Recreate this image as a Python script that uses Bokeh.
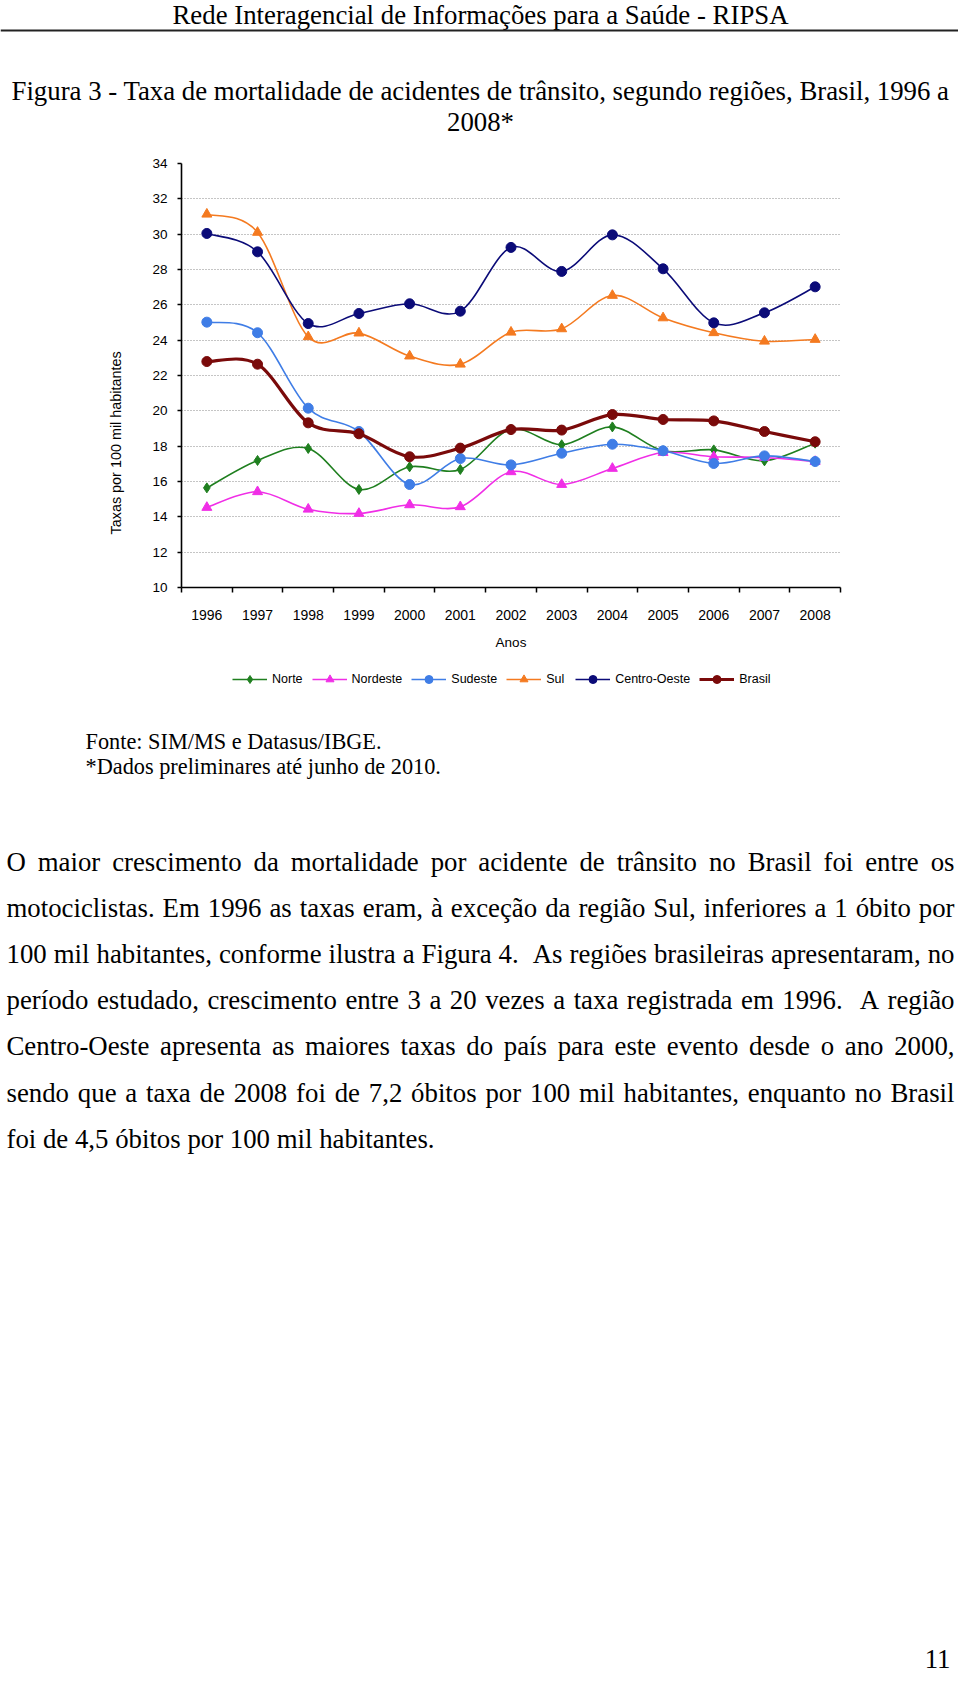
import unicodedata
from bokeh.plotting import figure
from bokeh.models import (Range1d, FixedTicker, Legend, LegendItem, Span, Title,
                          ColumnDataSource)
from bokeh.embed import file_html
from bokeh.resources import INLINE
from bokeh.core.properties import value

# ---------------- data ----------------
years = [1996, 1997, 1998, 1999, 2000, 2001, 2002, 2003, 2004, 2005, 2006, 2007, 2008]
norte = [15.64, 17.19, 17.87, 15.55, 16.83, 16.68, 18.95, 18.08, 19.09, 17.74, 17.79, 17.17, 18.17]
nordeste = [14.53, 15.42, 14.43, 14.19, 14.68, 14.57, 16.55, 15.83, 16.74, 17.64, 17.40, 17.36, 17.13]
sudeste = [25.02, 24.42, 20.15, 18.83, 15.83, 17.30, 16.94, 17.60, 18.11, 17.74, 17.02, 17.45, 17.13]
sul = [31.13, 30.10, 24.19, 24.40, 23.10, 22.64, 24.45, 24.64, 26.53, 25.26, 24.42, 23.94, 24.04]
centro_oeste = [30.04, 29.00, 24.94, 25.51, 26.06, 25.64, 29.25, 27.89, 29.96, 28.04, 24.98, 25.55, 27.02]
brasil = [22.79, 22.64, 19.32, 18.70, 17.40, 17.89, 18.94, 18.91, 19.79, 19.51, 19.43, 18.83, 18.25]
series_names = ["Norte", "Nordeste", "Sudeste", "Sul", "Centro-Oeste", "Brasil"]
y_ticks = [10, 12, 14, 16, 18, 20, 22, 24, 26, 28, 30, 32, 34]

header_text = "Rede Interagencial de Informações para a Saúde - RIPSA"
title_lines = ["Figura 3 - Taxa de mortalidade de acidentes de trânsito, segundo regiões, Brasil, 1996 a",
               "2008*"]
y_label = "Taxas por 100 mil habitantes"
x_label = "Anos"
source_lines = ["Fonte: SIM/MS e Datasus/IBGE.", "*Dados preliminares até junho de 2010."]
para_lines = [
    "O maior crescimento da mortalidade por acidente de trânsito no Brasil foi entre os",
    "motociclistas. Em 1996 as taxas eram, à exceção da região Sul, inferiores a 1 óbito por",
    "100 mil habitantes, conforme ilustra a Figura 4.  As regiões brasileiras apresentaram, no",
    "período estudado, crescimento entre 3 a 20 vezes a taxa registrada em 1996.  A região",
    "Centro-Oeste apresenta as maiores taxas do país para este evento desde o ano 2000,",
    "sendo que a taxa de 2008 foi de 7,2 óbitos por 100 mil habitantes, enquanto no Brasil",
    "foi de 4,5 óbitos por 100 mil habitantes.",
]
page_number = "11"

# ---------------- styles ----------------
SANS = "Liberation Sans"
SERIF = "Liberation Serif"
W = 958
HEAD_H = 153          # header figure: page y 0..153
FRAME_L, FRAME_W = 181, 659
FRAME_T, FRAME_H = 163, 425
BOTTOM_B = 64         # x-axis panel below the frame
CHART_H = (FRAME_T - HEAD_H) + FRAME_H + BOTTOM_B
LEG_TOP = HEAD_H + CHART_H          # legend strip figure
LEG_H = 713 - LEG_TOP
LEG_X, LEG_Y = 232, 669             # page position of the legend's top-left corner
FOOT_TOP = 713
FOOT_H = 1686 - FOOT_TOP
colors = {"Norte": "#1f7f1f", "Nordeste": "#f02ee6", "Sudeste": "#3f7de6",
          "Sul": "#f47a20", "Centro-Oeste": "#0b0b78", "Brasil": "#7a0a0a"}
markers = {"Norte": "diamond", "Nordeste": "triangle", "Sudeste": "circle",
           "Sul": "triangle", "Centro-Oeste": "circle", "Brasil": "circle"}
msize = {"Norte": 10, "Nordeste": 10, "Sudeste": 10, "Sul": 10, "Centro-Oeste": 10, "Brasil": 10}
lwidth = {"Norte": 1.6, "Nordeste": 1.6, "Sudeste": 1.6, "Sul": 1.6, "Centro-Oeste": 1.6, "Brasil": 3.2}

# Times / Liberation Serif advance widths (1/1000 em)
TW = {' ': 250, '!': 333, '"': 408, '%': 833, '&': 778, "'": 333, '(': 333, ')': 333, '*': 500,
      '+': 564, ',': 250, '-': 333, '.': 250, '/': 278, ':': 278, ';': 278, '?': 444,
      'A': 722, 'B': 667, 'C': 667, 'D': 722, 'E': 611, 'F': 556, 'G': 722, 'H': 722, 'I': 333,
      'J': 389, 'K': 722, 'L': 611, 'M': 889, 'N': 722, 'O': 722, 'P': 556, 'Q': 722, 'R': 667,
      'S': 556, 'T': 611, 'U': 722, 'V': 722, 'W': 944, 'X': 722, 'Y': 722, 'Z': 611,
      'a': 444, 'b': 500, 'c': 444, 'd': 500, 'e': 444, 'f': 333, 'g': 500, 'h': 500, 'i': 278,
      'j': 278, 'k': 500, 'l': 278, 'm': 778, 'n': 500, 'o': 500, 'p': 500, 'q': 500, 'r': 333,
      's': 389, 't': 278, 'u': 500, 'v': 500, 'w': 722, 'x': 500, 'y': 500, 'z': 444}


def tw(s, size):
    tot = 0
    for ch in s:
        if ch.isdigit():
            tot += 500
            continue
        base = unicodedata.normalize("NFD", ch)[0]
        tot += TW.get(base, 500)
    return tot * size / 1000.0


def text_fig(h, **kw):
    opts = dict(min_border=0)
    opts.update(kw)
    f = figure(width=W, height=h, x_range=Range1d(0, W), y_range=Range1d(h, 0),
               x_axis_type=None, y_axis_type=None, output_backend="svg",
               toolbar_location=None, sizing_mode="fixed", **opts)
    f.grid.visible = False
    f.outline_line_color = None
    return f


# ---------------- header figure ----------------
fa = text_fig(HEAD_H)
fa.text(x=[480], y=[14.5], text=[header_text], text_font=value(SERIF), text_font_size="26.8px",
        text_align="center", text_baseline="alphabetic", text_color="black")
fa.add_layout(Span(location=30, dimension="width", line_color="#222222", line_width=2))
fa.text(x=[480, 480], y=[90, 121.5], text=title_lines, text_font=value(SERIF),
        text_font_size="26.8px", text_align="center", text_baseline="alphabetic", text_color="black")

# ---------------- chart figure ----------------
p = figure(width=W, height=CHART_H, x_range=Range1d(1995.5, 2008.5), y_range=Range1d(10, 34),
           output_backend="svg", toolbar_location=None, sizing_mode="fixed",
           min_border_left=FRAME_L, min_border_right=W - FRAME_L - FRAME_W,
           min_border_top=FRAME_T - HEAD_H, min_border_bottom=BOTTOM_B)
p.outline_line_color = None
p.xgrid.grid_line_color = None
p.ygrid.ticker = FixedTicker(ticks=y_ticks[1:])
p.ygrid.grid_line_color = "#8a8a8a"
p.ygrid.grid_line_dash = "1 2"
p.ygrid.grid_line_width = 1

xa = p.xaxis[0]
xa.ticker = FixedTicker(ticks=years, minor_ticks=[y - 0.5 for y in years] + [years[-1] + 0.5])
xa.major_tick_out = 0
xa.major_tick_in = 0
xa.minor_tick_out = 5
xa.minor_tick_in = 0
xa.minor_tick_line_color = "black"
xa.minor_tick_line_width = 1.5
xa.major_label_standoff = 17
xa.axis_label = x_label
xa.axis_label_standoff = 12
xa.axis_label_text_font_style = "normal"
xa.axis_label_text_font = SANS
xa.axis_label_text_font_size = "13.5px"
xa.axis_label_text_color = "black"
xa.major_label_text_font_size = "14px"

ya = p.yaxis[0]
ya.ticker = FixedTicker(ticks=y_ticks)
ya.major_tick_out = 4
ya.major_tick_in = 0
ya.minor_tick_out = 0
ya.minor_tick_in = 0
ya.major_label_standoff = 10
ya.major_label_text_font_size = "13.5px"

for ax in (xa, ya):
    ax.axis_line_color = "black"
    ax.axis_line_width = 1.6
    ax.major_tick_line_color = "black"
    ax.major_tick_line_width = 1.5
    ax.major_label_text_font = SANS
    ax.major_label_text_color = "black"

p.add_layout(Title(text=y_label, align="left", offset=53, vertical_align="middle", standoff=50,
                   text_font=SANS, text_font_size="14.4px", text_font_style="normal",
                   text_color="black"), "left")

data = {"Norte": norte, "Nordeste": nordeste, "Sudeste": sudeste, "Sul": sul,
        "Centro-Oeste": centro_oeste, "Brasil": brasil}

for name in series_names:
    v = data[name]
    n = len(years)
    x0, y0, x1, y1, cx0, cy0, cx1, cy1 = [], [], [], [], [], [], [], []
    for i in range(n - 1):
        im1 = max(i - 1, 0)
        ip2 = min(i + 2, n - 1)
        x0.append(years[i]); y0.append(v[i])
        x1.append(years[i + 1]); y1.append(v[i + 1])
        cx0.append(years[i] + (years[i + 1] - years[im1]) / 6.0)
        cy0.append(v[i] + (v[i + 1] - v[im1]) / 6.0)
        cx1.append(years[i + 1] - (years[ip2] - years[i]) / 6.0)
        cy1.append(v[i + 1] - (v[ip2] - v[i]) / 6.0)
    p.bezier(x0=x0, y0=y0, x1=x1, y1=y1, cx0=cx0, cy0=cy0, cx1=cx1, cy1=cy1,
             line_color=colors[name], line_width=lwidth[name])
    p.scatter(x=years, y=v, marker=markers[name], size=msize[name],
              fill_color=colors[name], line_color=colors[name], line_width=1)

# ---------------- legend strip (below the chart) ----------------
# The strip's ranges lie outside the data, so its series renderers only feed the legend glyphs.
fl = figure(width=W, height=LEG_H, x_range=Range1d(0, 1), y_range=Range1d(0, 1),
            x_axis_type=None, y_axis_type=None, output_backend="svg", toolbar_location=None,
            sizing_mode="fixed", min_border_left=LEG_X, min_border_top=LEG_Y - LEG_TOP,
            min_border_right=0, min_border_bottom=0)
fl.grid.visible = False
fl.outline_line_color = None
items = []
for name in series_names:
    rl = fl.line(x=years, y=data[name], line_color=colors[name], line_width=lwidth[name])
    rm = fl.scatter(x=years, y=data[name], marker=markers[name], size=msize[name],
                    fill_color=colors[name], line_color=colors[name])
    items.append(LegendItem(label=name, renderers=[rl, rm]))
legend = Legend(items=items, orientation="horizontal", location="top_left",
                label_text_font=SANS, label_text_font_size="12.5px", label_text_color="black",
                glyph_width=35, glyph_height=20, label_standoff=5, spacing=9,
                padding=0, margin=0, border_line_color=None, background_fill_alpha=0)
fl.add_layout(legend)

# ---------------- footer figure ----------------
fc = text_fig(FOOT_H)


def fy(page_y):
    return page_y - FOOT_TOP


fc.text(x=[85, 85], y=[fy(741), fy(766)], text=source_lines, text_font=value(SERIF),
        text_font_size="22.3px", text_align="left", text_baseline="alphabetic", text_color="black")

FS = 26.8
left, right = 6.0, 954.0
wx, wy, wt = [], [], []
for li, line in enumerate(para_lines):
    words = line.split(" ")
    widths = [tw(w, FS) for w in words]
    gaps = len(words) - 1
    if li < len(para_lines) - 1:
        gap = (right - left - sum(widths)) / gaps
    else:
        gap = tw(" ", FS)
    x = left
    yb = fy(861 + 46.2 * li)
    for w, wd in zip(words, widths):
        if w:
            wx.append(x); wy.append(yb); wt.append(w)
        x += wd + gap
fc.text(x="x", y="y", text="t", source=ColumnDataSource(dict(x=wx, y=wy, t=wt)),
        text_font=value(SERIF), text_font_size="26.8px", text_align="left",
        text_baseline="alphabetic", text_color="black")

fc.text(x=[950], y=[fy(1658)], text=[page_number], text_font=value(SERIF),
        text_font_size="26.8px", text_align="right", text_baseline="alphabetic", text_color="black")

open("out.html", "w").write(file_html([fa, p, fl, fc], INLINE))
